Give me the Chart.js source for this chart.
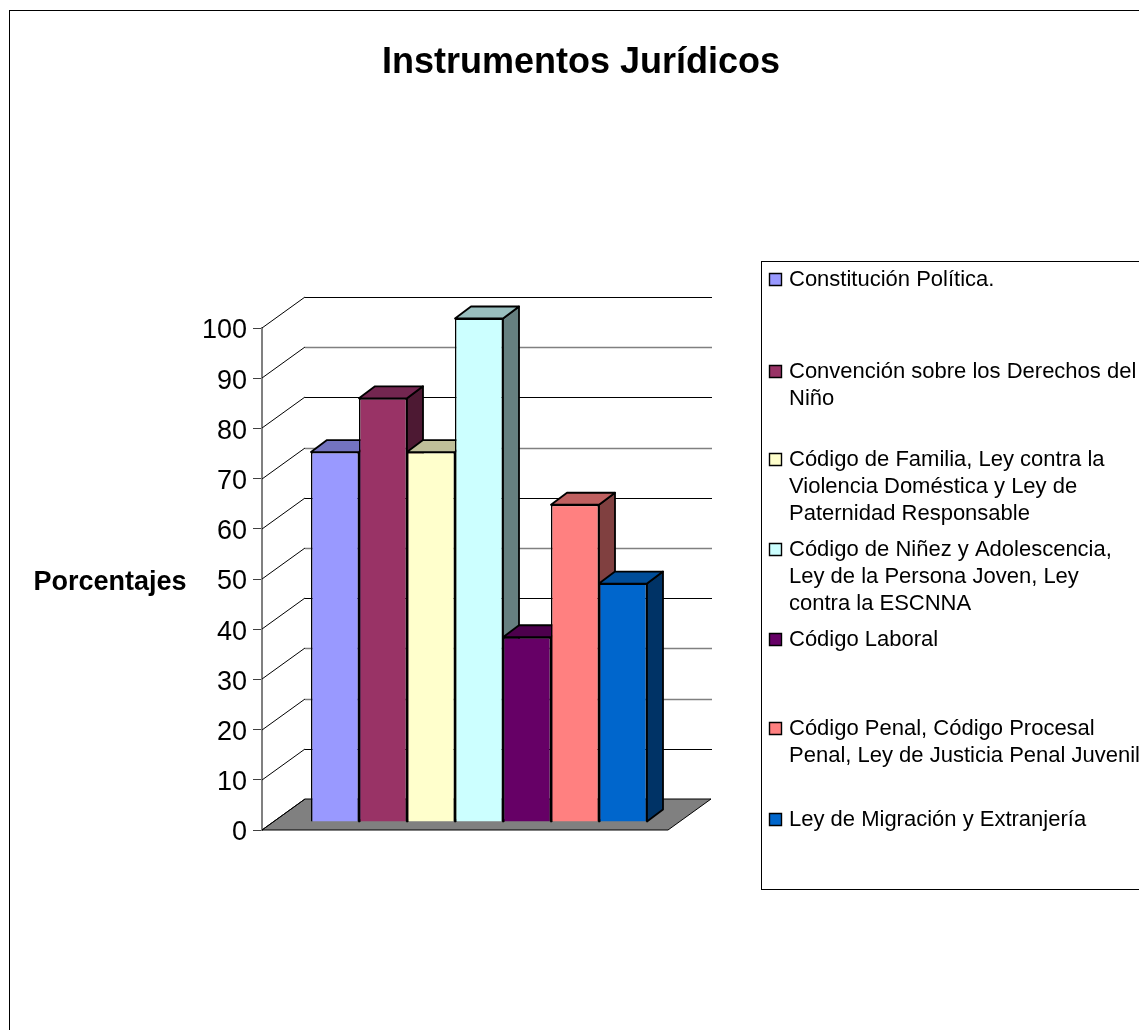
<!DOCTYPE html>
<html>
<head>
<meta charset="utf-8">
<title>Instrumentos Jurídicos</title>
<script src="https://cdn.jsdelivr.net/npm/chart.js@4"></script>
<style>
  html, body { margin: 0; padding: 0; background: #fff; overflow: hidden; }
  canvas { display: block; }
</style>
</head>
<body>
<canvas id="myChart" width="1139" height="1030"></canvas>
<script>
const chartTitle = 'Instrumentos Jurídicos';
const axisTitle = 'Porcentajes';
const categories = ['Instrumentos'];
const seriesNames = [
  'Constitución Política.',
  'Convención sobre los Derechos del Niño',
  'Código de Familia, Ley contra la Violencia Doméstica y Ley de Paternidad Responsable',
  'Código de Niñez y Adolescencia, Ley de la Persona Joven, Ley contra la ESCNNA',
  'Código Laboral',
  'Código Penal, Código Procesal Penal, Ley de Justicia Penal Juvenil',
  'Ley de Migración y Extranjería',
];
const seriesValues = [73.7, 84.4, 73.7, 100.3, 36.8, 63.2, 47.5];
const frontColors = ['#9999FF', '#993366', '#FFFFCC', '#CCFFFF', '#660066', '#FF8080', '#0066CC'];
const topColors = ['#7373BF', '#732650', '#BFBF99', '#99BFBF', '#4D004D', '#BF6060', '#004D99'];
const sideColors = ['#4D4D80', '#4D1933', '#808066', '#668080', '#330033', '#804040', '#003366'];
const legendLines = [
  ['Constitución Política.'],
  ['Convención sobre los Derechos del', 'Niño'],
  ['Código de Familia, Ley contra la', 'Violencia Doméstica y Ley de', 'Paternidad Responsable'],
  ['Código de Niñez y Adolescencia,', 'Ley de la Persona Joven, Ley', 'contra la ESCNNA'],
  ['Código Laboral'],
  ['Código Penal, Código Procesal', 'Penal, Ley de Justicia Penal Juvenil'],
  ['Ley de Migración y Extranjería'],
];
const legendBaselines = [286, 378, 466, 556, 646, 735, 826];
const gridColors = ['#808080', '#000', '#808080', '#808080', '#000', '#808080', '#000', '#808080', '#000', '#808080', '#000'];

const FONT = '"Liberation Sans", Arial, sans-serif';
const WALL_DX = 43;
const WALL_DY = -31;
const BAR_DX = 16;
const BAR_DY = -12;
const PLANE_DX = 14;
const PLANE_DY = -8;

const polygon = (ctx, points, fill, stroke, width) => {
  ctx.beginPath();
  points.forEach(([x, y], i) => (i ? ctx.lineTo(x, y) : ctx.moveTo(x, y)));
  ctx.closePath();
  if (fill) {
    ctx.fillStyle = fill;
    ctx.fill();
  }
  ctx.strokeStyle = stroke;
  ctx.lineWidth = width;
  ctx.stroke();
};

const drawWalls = (chart) => {
  const { ctx, chartArea, scales } = chart;
  const { left, right, bottom } = chartArea;
  ctx.save();
  polygon(ctx, [
    [left, bottom],
    [right, bottom],
    [right + WALL_DX, bottom + WALL_DY],
    [left + WALL_DX, bottom + WALL_DY],
  ], '#808080', '#000', 1);
  scales.y.ticks.forEach((tick, i) => {
    const y = Math.round(scales.y.getPixelForValue(tick.value));
    ctx.strokeStyle = '#000';
    ctx.lineWidth = 1;
    ctx.beginPath();
    ctx.moveTo(left, y);
    ctx.lineTo(left + WALL_DX, y + WALL_DY);
    ctx.stroke();
    if (tick.value > 0) {
      ctx.strokeStyle = gridColors[i];
      ctx.lineWidth = gridColors[i] === '#000' ? 1 : 1.6;
      ctx.beginPath();
      ctx.moveTo(left + WALL_DX, y + WALL_DY + 0.5);
      ctx.lineTo(right + WALL_DX + 1, y + WALL_DY + 0.5);
      ctx.stroke();
    }
  });
  ctx.restore();
};

const drawBars = (chart) => {
  const { ctx } = chart;
  ctx.save();
  ctx.translate(PLANE_DX, PLANE_DY);
  ctx.lineJoin = 'round';
  seriesValues.forEach((value, i) => {
    const bar = chart.getDatasetMeta(i).data[0];
    const x0 = bar.x - bar.width / 2;
    const x1 = bar.x + bar.width / 2;
    polygon(ctx, [
      [x1, bar.y],
      [x1 + BAR_DX, bar.y + BAR_DY],
      [x1 + BAR_DX, bar.base + BAR_DY],
      [x1, bar.base],
    ], sideColors[i], '#000', 1.8);
    polygon(ctx, [
      [x0, bar.y],
      [x0 + BAR_DX, bar.y + BAR_DY],
      [x1 + BAR_DX, bar.y + BAR_DY],
      [x1, bar.y],
    ], topColors[i], '#000', 1.8);
    bar.draw(ctx);
  });
  ctx.restore();
};

const drawLegend = (chart) => {
  const { ctx } = chart;
  ctx.save();
  ctx.strokeStyle = '#000';
  ctx.lineWidth = 1;
  ctx.strokeRect(761.5, 261.5, 500, 628);
  ctx.font = `22px ${FONT}`;
  ctx.textBaseline = 'alphabetic';
  ctx.textAlign = 'left';
  legendLines.forEach((lines, i) => {
    const baseline = legendBaselines[i];
    polygon(ctx, [
      [769.5, baseline - 12.5],
      [781.5, baseline - 12.5],
      [781.5, baseline - 0.5],
      [769.5, baseline - 0.5],
    ], frontColors[i], '#000', 1.4);
    ctx.fillStyle = '#000';
    lines.forEach((line, j) => ctx.fillText(line, 789, baseline + j * 27));
  });
  ctx.restore();
};

const instrumentsPlugin = {
  id: 'instruments3d',
  beforeDraw(chart) {
    const { ctx } = chart;
    ctx.save();
    ctx.fillStyle = '#fff';
    ctx.fillRect(0, 0, chart.width, chart.height);
    ctx.strokeStyle = '#000';
    ctx.lineWidth = 1;
    ctx.strokeRect(9.5, 10.5, 1400, 1400);
    ctx.restore();
  },
  beforeDatasetsDraw(chart) {
    drawWalls(chart);
  },
  beforeDatasetDraw() {
    return false;
  },
  afterDatasetsDraw(chart) {
    drawBars(chart);
  },
  afterDraw(chart) {
    const { ctx } = chart;
    drawLegend(chart);
    ctx.save();
    ctx.fillStyle = '#000';
    ctx.textBaseline = 'alphabetic';
    ctx.textAlign = 'center';
    ctx.font = `bold 36px ${FONT}`;
    ctx.fillText(chartTitle, 581, 73);
    ctx.font = `bold 27px ${FONT}`;
    ctx.fillText(axisTitle, 110, 590);
    ctx.restore();
  },
};

const instrumentsChart = new Chart('myChart', {
  type: 'bar',
  data: {
    labels: categories,
    datasets: seriesNames.map((name, i) => ({
      label: name,
      data: [seriesValues[i]],
      backgroundColor: frontColors[i],
      borderColor: '#000',
      borderWidth: 1.5,
    })),
  },
  options: {
    responsive: false,
    animation: false,
    layout: { padding: { left: 0, top: 328, right: 471, bottom: 200 } },
    datasets: { bar: { categoryPercentage: 336 / 406, barPercentage: 1 } },
    plugins: { legend: { display: false }, title: { display: false }, tooltip: { enabled: false } },
    scales: {
      x: { display: false },
      y: {
        min: 0,
        max: 100,
        afterFit: (scale) => {
          scale.width = 262;
        },
        ticks: { stepSize: 10, color: '#000', padding: 6, labelOffset: 3, font: { family: FONT, size: 27 } },
        grid: { drawOnChartArea: false, drawTicks: true, tickLength: 9, color: '#404040' },
        border: { color: '#808080', width: 2 },
      },
    },
  },
  plugins: [instrumentsPlugin],
});
</script>
</body>
</html>
